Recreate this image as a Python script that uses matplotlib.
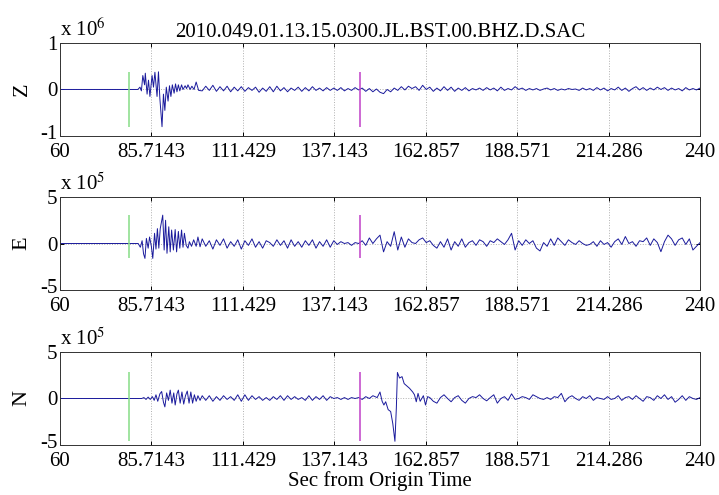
import numpy as np
import matplotlib
matplotlib.use("Agg")
import matplotlib.pyplot as plt
from matplotlib.transforms import ScaledTranslation

plt.rcParams["font.family"] = ["Liberation Serif", "DejaVu Serif"]
plt.rcParams["mathtext.fontset"] = "stix"

TITLE = "2010.049.01.13.15.0300.JL.BST.00.BHZ.D.SAC"
T_START, T_END = 60.0, 240.0
N_XTICKS = 8

# phase picks (s)
pick_p = 79.4
pick_s = 144.4

# ---- Z component (x 10^6) ----
z_burst_t = [81.9, 82.5, 82.9, 83.3, 83.8, 84.0, 84.5, 84.9, 85.3, 85.9, 86.3, 86.7,
             87.3, 87.7, 88.1, 88.7, 89.1, 89.5, 89.9, 90.4, 90.8, 91.2, 91.6, 92.1,
             92.5, 92.9, 93.3, 93.7, 94.2, 94.6, 95.2, 95.6, 96.0, 96.6, 97.1, 97.7, 98.3]
z_burst_v = [0.0, 0.05, -0.03, 0.30, 0.10, 0.35, -0.10, 0.20, -0.15, 0.30, 0.05, 0.37,
             -0.15, 0.38, -0.20, -0.80, -0.10, -0.45, 0.05, -0.25, 0.08, -0.15, 0.10, -0.08,
             0.12, -0.05, 0.10, -0.03, 0.10, 0.0, 0.08, 0.02, 0.10, 0.0, 0.07, 0.0, 0.16]
z_coda_t0, z_coda_dt = 99.0, 1.0
z_coda_v = [-0.02, -0.03, 0.07, -0.02, 0.09, -0.04, 0.06, -0.03, 0.07, -0.05,
            0.05, -0.03, 0.06, -0.04, 0.04, -0.02, 0.05, -0.06, 0.03, -0.04,
            0.06, -0.05, 0.07, -0.03, 0.04, -0.05, 0.03, -0.02, 0.05, -0.04,
            0.04, -0.03, 0.06, -0.02, 0.03, -0.03, 0.04, -0.02, 0.03, -0.02,
            0.04, -0.03, 0.02, -0.02, 0.04, -0.01, 0.03, -0.04, 0.02, -0.05,
            0.01, -0.06, -0.09, 0.0, -0.05, 0.03, -0.02, 0.06, -0.01, 0.07,
            0.02, 0.06, -0.02, 0.09, 0.0, 0.05, -0.04, 0.03, -0.03, 0.06,
            -0.02, 0.05, -0.04, 0.03, -0.02, 0.04, -0.03, 0.02, -0.01, 0.03,
            -0.02, 0.04, -0.01, 0.03, -0.03, 0.05, -0.02, 0.02, -0.01, 0.06,
            0.0, 0.03, -0.02, 0.02, -0.01, 0.02, -0.02, 0.01, 0.03, -0.01,
            0.02, -0.02, 0.01, -0.01, 0.02, 0.0, 0.01, -0.02, 0.03, -0.01,
            0.02, -0.02, 0.04, -0.01, 0.03, -0.03, 0.02, -0.01, 0.05, -0.02,
            0.03, -0.04, 0.02, 0.06, -0.01, 0.04, -0.02, 0.03, -0.01, 0.05,
            0.0, 0.04, -0.02, 0.03, -0.01, 0.02, -0.03, 0.04, -0.01, 0.02,
            -0.01, 0.03]

# ---- E component (x 10^5) ----
e_burst_t = [82.0, 82.6, 83.1, 83.5, 83.9, 84.3, 84.8, 85.2, 85.7, 86.1, 86.6, 87.0,
             87.4, 87.8, 88.2, 88.9, 89.3, 89.7, 90.1, 90.6, 91.0, 91.4, 91.9, 92.4,
             92.8, 93.3, 93.7, 94.2, 94.6, 95.0, 95.5, 96.0, 96.4, 97.0, 97.6, 98.3,
             98.8, 99.4]
e_burst_v = [0.0, -0.4, 0.3, -1.1, -1.6, 0.55, -0.5, 0.7, -0.3, -1.6, 1.1, -0.6,
             1.6, -0.5, 1.6, 3.05, -0.7, 2.5, -1.05, 1.8, -0.9, 1.45, -0.7, 1.5,
             -0.9, 1.3, -0.5, 1.45, -0.4, 1.1, -0.2, -0.5, 0.2, -0.3, 0.4, -0.3,
             0.7, -0.35]
e_coda_t0, e_coda_dt = 100.0, 1.0
e_coda_v = [0.5, -0.3, 0.3, -0.6, 0.4, -0.2, 0.5, -0.5, 0.2, -0.3,
            0.4, -0.6, 0.3, -0.2, 0.5, -0.4, 0.2, -0.5, 0.3, 0.1,
            -0.3, 0.4, -0.2, 0.3, -0.5, 0.4, -0.3, 0.2, -0.4, 0.3,
            -0.2, 0.4, -0.5, 0.2, -0.3, 0.4, -0.4, 0.3, -0.1, 0.2,
            0.0, 0.1, -0.2, 0.1, 0.0, 0.3, -0.2, 0.6, 0.0, 0.5,
            0.9, -0.9, 0.2, -0.3, 1.27, -0.7, 0.7, -0.4, 0.5, 0.1,
            0.0, 0.4, 0.6, 0.1, 0.3, -0.2, -0.5, 0.2, -0.4, 0.5,
            -0.7, 0.2, -0.3, 0.5, -0.4, 0.1, 0.3, -0.2, 0.4, 0.2,
            -0.3, 0.3, 0.1, 0.5, 0.2, -0.1, 0.4, 1.1, -0.7, 0.3,
            -0.2, 0.4, 0.0, 0.3, -0.5, -0.8, 0.1, -0.3, 0.5, -0.2,
            0.6, 0.2, -0.2, 0.4, 0.1, -0.1, 0.3, 0.0, -0.2, -0.1,
            0.2, -0.3, 0.3, -0.1, 0.1, -0.4, 0.2, 0.5, -0.1, 0.75,
            0.0, 0.2, -0.3, 0.3, 0.2, 0.6, -0.2, 0.5, 0.1, -0.88,
            0.2, 0.9, 0.5, -0.2, 0.4, 0.6, -0.1, 0.5, -0.7, -0.3,
            0.1]

# ---- N component (x 10^5) ----
n_burst_t = [83.0, 83.6, 84.2, 84.8, 85.4, 86.0, 86.5, 87.0, 87.5, 88.1, 88.6, 89.1,
             89.5, 90.0, 90.5, 91.0, 91.5, 92.0, 92.4, 92.9, 93.3, 93.8, 94.3, 94.8,
             95.3, 95.8, 96.3, 96.8, 97.3, 97.8, 98.3, 98.8, 99.4]
n_burst_v = [0.0, 0.1, -0.1, 0.15, -0.1, 0.2, -0.2, 0.4, -0.3, 0.5, 0.75, -0.4,
             -0.9, 0.6, -0.2, 0.9, -0.5, 0.6, -0.7, 0.5, 0.9, -0.5, 0.7, -0.6,
             0.3, 0.8, -0.5, 0.7, -0.5, 0.4, -0.3, 0.3, -0.2]
n_coda1_t0, n_coda_dt = 100.0, 1.0
n_coda1_v = [0.3, -0.2, 0.3, -0.3, 0.2, -0.2, 0.3, -0.1, 0.2, -0.2,
             0.4, -0.3, 0.4, -0.2, 0.3, -0.1, 0.2, -0.2, 0.1, -0.2,
             0.2, -0.1, 0.3, -0.2, 0.3, -0.1, 0.2, -0.1, 0.1, -0.2,
             0.3, -0.2, 0.2, -0.1, 0.3, -0.2, 0.2, 0.0, 0.1, -0.1,
             0.1, -0.1, 0.1, 0.0, 0.1, -0.1, 0.2, 0.0, 0.3]
n_pulse_t = [149.2, 150.0, 150.6, 151.1, 151.6, 152.3, 153.0, 153.6, 154.2, 154.6,
             154.9, 155.5, 156.2, 156.8, 157.4, 158.3, 159.2, 159.7, 160.2, 160.7,
             161.3, 162.2, 162.8, 163.4]
n_pulse_v = [0.1, 0.7, -0.3, -0.7, -0.35, -1.2, -1.4, -2.7, -4.6, -1.0,
             2.8, 2.2, 2.35, 1.6, 1.4, 1.1, 0.7, 0.4, -0.35, 0.55,
             -0.3, 0.3, -0.7, 0.2]
n_coda2_t0 = 164.0
n_coda2_v = [0.1, -0.3, -0.5, 0.1, 0.4, 0.0, -0.35, 0.1, 0.3, -0.2,
             -0.5, 0.0, 0.2, 0.1, 0.4, 0.0, -0.25, 0.1, 0.4, -0.5,
             0.0, 0.2, -0.2, 0.5, -0.1, 0.0, 0.2, 0.1, -0.1, 0.4,
             0.2, 0.0, -0.1, 0.1, -0.1, 0.2, 0.1, 0.55, -0.35, 0.1,
             0.3, 0.0, -0.2, 0.2, 0.0, 0.3, -0.2, 0.1, 0.0, -0.1,
             0.2, -0.1, 0.0, 0.3, -0.2, 0.1, 0.2, -0.1, 0.3, 0.0,
             -0.3, 0.2, 0.1, -0.2, 0.3, 0.0, 0.4, -0.1, 0.2, -0.4,
             -0.1, 0.3, -0.2, 0.2, 0.0, -0.1, 0.1]


def coda(t0, dt, vals):
    return t0 + dt * np.arange(len(vals)), np.asarray(vals, float)


def trace(*segments):
    # flat pre-event record from the start of the window, then the segments
    ts = [np.array([T_START])]
    vs = [np.array([0.0])]
    for t, v in segments:
        ts.append(np.asarray(t, float))
        vs.append(np.asarray(v, float))
    return np.concatenate(ts), np.concatenate(vs)


traces = [
    ("Z", 6, 1, trace((z_burst_t, z_burst_v), coda(z_coda_t0, z_coda_dt, z_coda_v))),
    ("E", 5, 5, trace((e_burst_t, e_burst_v), coda(e_coda_t0, e_coda_dt, e_coda_v))),
    ("N", 5, 5, trace((n_burst_t, n_burst_v), coda(n_coda1_t0, n_coda_dt, n_coda1_v),
                      (n_pulse_t, n_pulse_v), coda(n_coda2_t0, n_coda_dt, n_coda2_v))),
]

fig = plt.figure(figsize=(7.19, 4.95), dpi=100)
axes_rects = [
    [0.0834, 0.7253, 0.8902, 0.1879],
    [0.0834, 0.4141, 0.8902, 0.1879],
    [0.0834, 0.1010, 0.8902, 0.1879],
]
xticks = np.linspace(T_START, T_END, N_XTICKS)
lift = ScaledTranslation(0, 3 / 72, fig.dpi_scale_trans)

for rect, (name, expo, lim, (t, v)) in zip(axes_rects, traces):
    ax = fig.add_axes(rect)
    ax.plot(t, v, color="#1a1a9c", lw=0.7)
    ax.vlines(pick_p, v.min(), v.max(), color="#86dc86", lw=1.1)
    ax.vlines(pick_s, v.min(), v.max(), color="#c040c8", lw=1.1)
    ax.set_xlim(T_START, T_END)
    ax.set_ylim(-lim, lim)
    ax.set_xticks(xticks)
    ax.set_xticklabels(["%g" % x for x in xticks])
    ax.set_yticks([-lim, 0, lim])
    ax.set_yticklabels([str(-lim), "0", str(lim)])
    ax.grid(True, linestyle=":", color="#b0b0b0", lw=0.7)
    ax.tick_params(direction="in", top=True, right=True, labelsize=15,
                   length=3, width=0.7)
    ax.tick_params(axis="x", pad=5)
    ax.tick_params(axis="y", pad=2)
    # nudge the lowest y label up so it clears the first x label
    bottom_lbl = ax.get_yticklabels()[0]
    bottom_lbl.set_transform(bottom_lbl.get_transform() + lift)
    for sp in ax.spines.values():
        sp.set_linewidth(0.7)
        sp.set_color("#333333")
    ax.set_ylabel(name, fontsize=16, labelpad=6)
    ax.text(0.0, 1.02, r"x 10$^{%d}$" % expo, transform=ax.transAxes,
            fontsize=15, ha="left", va="bottom")
    if name == "Z":
        ax.set_title(TITLE, fontsize=15, pad=4)
    if name == "N":
        ax.set_xlabel("Sec from Origin Time", fontsize=15, labelpad=0)

fig.savefig("out.png", dpi=100)
